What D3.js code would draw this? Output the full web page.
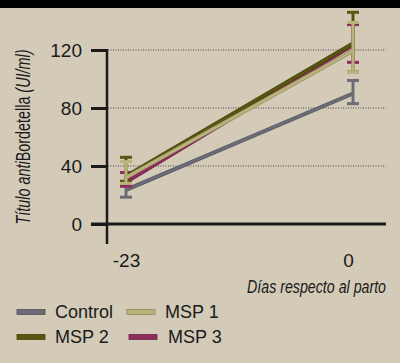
<!DOCTYPE html>
<html>
<head>
<meta charset="utf-8">
<script src="https://cdn.jsdelivr.net/npm/d3@7"></script>
<style>
  html, body { margin: 0; padding: 0; background: #d3cbb8; }
  svg { display: block; }
  text { font-family: "Liberation Sans Narrow", "Arial Narrow", "Liberation Sans", sans-serif; fill: #1a1a1a; }
</style>
</head>
<body>
<script>
// data
const days = [-23, 0];
const seriesNames = ["Control", "MSP 3", "MSP 2", "MSP 1"];
const control = [23.5, 90];
const controlHi = [28, 99];
const controlLo = [18.5, 83];
const msp1 = [32, 119.5];
const msp1Hi = [43, 139];
const msp1Lo = [28, 105];
const msp2 = [33, 124.5];
const msp2Hi = [46, 146];
const msp2Lo = [29.5, 105];
const msp3 = [29, 123.5];
const msp3Hi = [35.5, 137.5];
const msp3Lo = [26, 111.5];
const yTicks = [0, 40, 80, 120];
const xTicks = [-23, 0];

const colors = {
    "Control": "#6c6c78",
    "MSP 1": "#bab37c",
    "MSP 2": "#58560f",
    "MSP 3": "#8e2e5e"
};

const series = {
    "Control": { v: control, hi: controlHi, lo: controlLo },
    "MSP 1": { v: msp1, hi: msp1Hi, lo: msp1Lo },
    "MSP 2": { v: msp2, hi: msp2Hi, lo: msp2Lo },
    "MSP 3": { v: msp3, hi: msp3Hi, lo: msp3Lo }
};

const w = 400, h = 363;

const svg = d3.select("body").append("svg")
    .attr("width", w)
    .attr("height", h);

svg.append("rect").attr("width", w).attr("height", h).attr("fill", "#d3cbb8");
svg.append("rect").attr("width", w).attr("height", 8).attr("fill", "#000");

const x = d3.scaleLinear().domain([-23, 0]).range([126, 353]);
const y = d3.scaleLinear().domain([0, 120]).range([224, 50]);

// dotted gridlines
svg.append("g").selectAll("line")
    .data(yTicks.filter(d => d > 0))
    .enter().append("line")
    .attr("x1", 108).attr("x2", 386)
    .attr("y1", d => y(d)).attr("y2", d => y(d))
    .attr("stroke", "#444")
    .attr("stroke-width", 1)
    .attr("stroke-dasharray", "1,1.5");

// y axis
const yAxis = svg.append("g")
    .attr("transform", "translate(107,0)")
    .call(d3.axisLeft(y).tickValues(yTicks).tickSize(16).tickPadding(9));
yAxis.select(".domain").remove();
yAxis.selectAll(".tick line").attr("stroke", "#1a1a1a").attr("stroke-width", 3);
yAxis.selectAll(".tick text").attr("font-size", 19).attr("fill", "#1a1a1a")
    .attr("font-family", "'Liberation Sans Narrow', 'Arial Narrow', sans-serif");

svg.append("line")
    .attr("x1", 107).attr("x2", 107)
    .attr("y1", y(120) - 1).attr("y2", 244)
    .attr("stroke", "#1a1a1a").attr("stroke-width", 2.5);

svg.append("line")
    .attr("x1", 91).attr("x2", 386)
    .attr("y1", y(0)).attr("y2", y(0))
    .attr("stroke", "#1a1a1a").attr("stroke-width", 3);

// x axis labels
const xAxis = svg.append("g")
    .attr("transform", "translate(0,250)")
    .call(d3.axisBottom(x).tickValues(xTicks).tickFormat(d => String(d)).tickSize(0).tickPadding(4));
xAxis.select(".domain").remove();
xAxis.selectAll(".tick text").attr("font-size", 19).attr("fill", "#1a1a1a")
    .attr("font-family", "'Liberation Sans Narrow', 'Arial Narrow', sans-serif")
    .attr("dx", (d, i) => i === 1 ? -5 : 0);

// lines and error bars
const line = d3.line().x((d, i) => x(days[i])).y(d => y(d));

seriesNames.forEach(name => {
    const s = series[name];
    const g = svg.append("g");
    g.append("path")
        .datum(s.v)
        .attr("d", line)
        .attr("fill", "none")
        .attr("stroke", d3.color(colors[name]).darker(0.6))
        .attr("stroke-width", 4);
    g.append("path")
        .datum(s.v)
        .attr("d", line)
        .attr("fill", "none")
        .attr("stroke", colors[name])
        .attr("stroke-width", 2.5);
    days.forEach((d, i) => {
        g.append("line")
            .attr("x1", x(d)).attr("x2", x(d))
            .attr("y1", y(s.hi[i])).attr("y2", y(s.lo[i]))
            .attr("stroke", colors[name]).attr("stroke-width", 3);
        [s.hi[i], s.lo[i]].forEach(v => {
            g.append("line")
                .attr("x1", x(d) - 6).attr("x2", x(d) + 6)
                .attr("y1", y(v)).attr("y2", y(v))
                .attr("stroke", colors[name]).attr("stroke-width", 3);
        });
    });
});

// y label
const yl = svg.append("text")
    .attr("transform", "translate(30,137) rotate(-90)")
    .attr("text-anchor", "middle")
    .attr("font-size", 20)
    .attr("textLength", 175)
    .attr("lengthAdjust", "spacingAndGlyphs");
yl.append("tspan").attr("font-style", "italic").text("Título anti");
yl.append("tspan").text("Bordetella");
yl.append("tspan").attr("font-style", "italic").text(" (UI/ml)");

// x label, squeezed horizontally to the condensed width of the original
const xl = svg.append("text")
    .attr("text-anchor", "end")
    .attr("font-size", 18)
    .attr("font-style", "italic")
    .text("Días respecto al parto");
const sx = Math.min(1, 139 / xl.node().getComputedTextLength());
xl.attr("transform", "translate(386,293) scale(" + sx + ",1)");

// legend
const legendItems = [
    { name: "Control", lx: 17, tx: 55, ly: 312 },
    { name: "MSP 1", lx: 127, tx: 165, ly: 312 },
    { name: "MSP 2", lx: 17, tx: 55, ly: 337 },
    { name: "MSP 3", lx: 129, tx: 168, ly: 337 }
];
const legend = svg.append("g");
legendItems.forEach(it => {
    legend.append("rect")
        .attr("x", it.lx).attr("y", it.ly - 2.5)
        .attr("width", 28).attr("height", 5)
        .attr("fill", colors[it.name])
        .attr("stroke", d3.color(colors[it.name]).darker(0.8))
        .attr("stroke-width", 0.8);
    legend.append("text")
        .attr("x", it.tx).attr("y", it.ly + 6)
        .attr("font-size", 18)
        .attr("font-family", "'Liberation Sans', Arial, sans-serif")
        .text(it.name);
});
</script>
</body>
</html>
